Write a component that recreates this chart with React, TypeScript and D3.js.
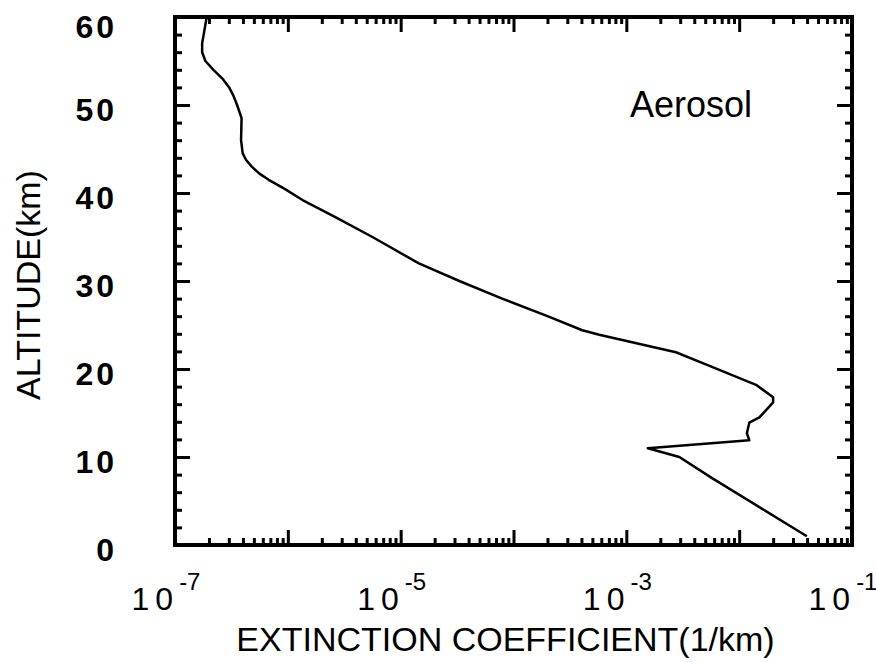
import React, { useEffect, useRef } from "react";
import * as d3 from "d3";

// altitude (km) vs aerosol extinction coefficient (1/km)
const altitudes = [
  60, 57, 56, 55, 54, 53, 52, 51, 50, 48.5, 46, 44.5, 43.75, 43, 42.2, 41.5,
  40.5, 39.2, 37.2, 35, 32, 30, 28, 26, 24.4, 23.9, 21.9, 20.5, 18.2, 16.8,
  16.2, 14.5, 13.9, 12.7, 11.9, 11.0, 10.0, 7.6, 1.0,
];
const extinction = [
  1.91e-7, 1.74e-7, 1.74e-7, 1.86e-7, 2.19e-7, 2.63e-7, 3.02e-7, 3.31e-7,
  3.55e-7, 3.89e-7, 3.85e-7, 3.98e-7, 4.27e-7, 4.79e-7, 5.6e-7, 6.76e-7,
  9.3e-7, 1.35e-6, 2.69e-6, 5.62e-6, 1.45e-5, 3.31e-5, 7.94e-5, 2.0e-4,
  4.07e-4, 5.75e-4, 2.75e-3, 5.13e-3, 1.41e-2, 2.0e-2, 2.0e-2, 1.51e-2,
  1.23e-2, 1.17e-2, 1.23e-2, 1.55e-3, 2.95e-3, 5.75e-3, 3.98e-2,
];
const xLabelExponents = [-7, -5, -3, -1];
const yLabels = [0, 10, 20, 30, 40, 50, 60];

const FONT = "'Liberation Sans', Arial, Helvetica, sans-serif";

type Pt = { alt: number; ext: number };

const App: React.FC = () => {
  const svgRef = useRef<SVGSVGElement | null>(null);
  const width = 876;
  const height = 662;

  useEffect(() => {
    const margin = { top: 17, right: 24, bottom: 117, left: 175 };
    const innerWidth = width - margin.left - margin.right;
    const innerHeight = height - margin.top - margin.bottom;

    d3.select(svgRef.current).selectAll("*").remove();

    const svg = d3
      .select(svgRef.current)
      .attr("width", width)
      .attr("height", height);

    const g = svg
      .append("g")
      .attr("transform", `translate(${margin.left},${margin.top})`);

    const x = d3.scaleLog().domain([1e-7, 1e-1]).range([0, innerWidth]);
    const y = d3.scaleLinear().domain([0, 60]).range([innerHeight, 0]);

    // log ticks: decades are major, 2..9 minor
    const allX = x.ticks();
    const isDecade = (v: number) =>
      Math.abs(Math.log10(v) - Math.round(Math.log10(v))) < 1e-9;
    const majorX = allX.filter(isDecade);
    const minorX = allX.filter((v) => !isDecade(v));
    const majorY = d3.range(0, 61, 10);
    const minorY = d3.range(0, 61, 2).filter((v) => v % 10 !== 0);

    const tidy = (sel: any) => {
      sel.select(".domain").remove();
      sel.selectAll("line").attr("stroke", "#000").attr("stroke-width", 3);
    };

    // inward ticks on all four sides
    const sides: [any, string][] = [
      [d3.axisBottom(x), `translate(0,${innerHeight})`],
      [d3.axisTop(x), "translate(0,0)"],
    ];
    sides.forEach(([axis, tr]) => {
      g.append("g")
        .attr("transform", tr)
        .call(axis.tickValues(minorX).tickSize(-7).tickFormat(() => ""))
        .call(tidy);
      g.append("g")
        .attr("transform", tr)
        .call(axis.tickValues(majorX).tickSize(-15).tickFormat(() => ""))
        .call(tidy);
    });

    const ySides: [any, string][] = [
      [d3.axisLeft(y), "translate(0,0)"],
      [d3.axisRight(y), `translate(${innerWidth},0)`],
    ];
    ySides.forEach(([axis, tr]) => {
      g.append("g")
        .attr("transform", tr)
        .call(axis.tickValues(minorY).tickSize(-7).tickFormat(() => ""))
        .call(tidy);
      g.append("g")
        .attr("transform", tr)
        .call(axis.tickValues(majorY).tickSize(-15).tickFormat(() => ""))
        .call(tidy);
    });

    // frame
    g.append("rect")
      .attr("width", innerWidth)
      .attr("height", innerHeight)
      .attr("fill", "none")
      .attr("stroke", "#000")
      .attr("stroke-width", 4);

    // profile
    const data: Pt[] = altitudes.map((a, i) => ({ alt: a, ext: extinction[i] }));
    const line = d3
      .line<Pt>()
      .x((d) => x(d.ext))
      .y((d) => y(d.alt));

    g.append("path")
      .datum(data)
      .attr("fill", "none")
      .attr("stroke", "#000")
      .attr("stroke-width", 2.5)
      .attr("stroke-linejoin", "round")
      .attr("d", line);

    // y tick labels (top one sits below the frame corner)
    g.selectAll(".ylab")
      .data(yLabels)
      .enter()
      .append("text")
      .attr("x", -58)
      .attr("y", (d) => Math.max(y(d) + 5, 10))
      .attr("dy", "0.35em")
      .attr("text-anchor", "end")
      .attr("font-family", FONT)
      .attr("font-weight", "bold")
      .attr("font-size", 32)
      .attr("letter-spacing", 3)
      .text((d) => String(d));

    // x tick labels 10^n
    xLabelExponents.forEach((e) => {
      const t = g
        .append("text")
        .attr("x", x(Math.pow(10, e)) - 9)
        .attr("y", innerHeight + 65)
        .attr("text-anchor", "middle")
        .attr("font-family", FONT)
        .attr("font-size", 32);
      t.append("tspan").attr("letter-spacing", 6).text("10");
      t.append("tspan")
        .attr("font-size", 24)
        .attr("dy", -20)
        .text(`-${Math.abs(e)}`);
    });

    // axis titles
    g.append("text")
      .attr("x", innerWidth / 2 - 8)
      .attr("y", innerHeight + 106)
      .attr("text-anchor", "middle")
      .attr("font-family", FONT)
      .attr("font-size", 34)
      .text("EXTINCTION COEFFICIENT(1/km)");

    g.append("text")
      .attr("transform", `translate(${40 - margin.left},${285 - margin.top}) rotate(-90)`)
      .attr("text-anchor", "middle")
      .attr("font-family", FONT)
      .attr("font-size", 34)
      .text("ALTITUDE(km)");

    g.append("text")
      .attr("x", 630 - margin.left)
      .attr("y", 117 - margin.top)
      .attr("font-family", FONT)
      .attr("font-size", 36)
      .text("Aerosol");
  }, []);

  return (
    <svg
      ref={svgRef}
      style={{ position: "absolute", left: 0, top: 0, background: "#fff" }}
    ></svg>
  );
};

export default App;
